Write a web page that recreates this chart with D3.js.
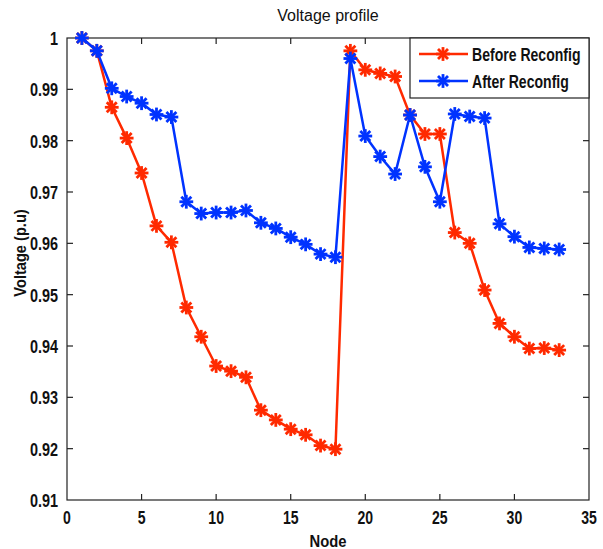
<!DOCTYPE html>
<html>
<head>
<meta charset="utf-8">
<script src="https://cdn.jsdelivr.net/npm/d3@7"></script>
<style>
body { margin: 0; background: #fff; }
svg text { font-family: "Liberation Sans", Arial, sans-serif; }
</style>
</head>
<body>
<div id="chart"></div>
<script>
const width = 603, height = 549;
const margin = {top: 38, right: 14, bottom: 49, left: 67};

const nodes = d3.range(1, 34);
const before = [1.0, 0.9975, 0.9865, 0.9805, 0.9737, 0.9634, 0.9602, 0.9475, 0.9418, 0.9361, 0.9351,
  0.9339, 0.9275, 0.9256, 0.9238, 0.9227, 0.9206, 0.9199, 0.9975, 0.9938, 0.9931, 0.9925, 0.985,
  0.9813, 0.9813, 0.9621, 0.9600, 0.9509, 0.9444, 0.9418, 0.9395, 0.9396, 0.9392];
const after = [1.0, 0.9975, 0.9902, 0.9886, 0.9873, 0.9851, 0.9846, 0.9681, 0.9658, 0.9660, 0.9660,
  0.9664, 0.9640, 0.9629, 0.9612, 0.9598, 0.9579, 0.9573, 0.9960, 0.9809, 0.9769, 0.9735, 0.985,
  0.9749, 0.9681, 0.9852, 0.9847, 0.9844, 0.9638, 0.9613, 0.9592, 0.9590, 0.9588];
const xTicks = [0, 5, 10, 15, 20, 25, 30, 35];
const yTicks = [0.91, 0.92, 0.93, 0.94, 0.95, 0.96, 0.97, 0.98, 0.99, 1];
const series = [
  {name: "Before Reconfig", values: before, color: "#ff2a00"},
  {name: "After Reconfig", values: after, color: "#0033ff"}
];

const svg = d3.select('#chart').append('svg')
  .attr('width', width).attr('height', height);

const x = d3.scaleLinear().domain([0, 35]).range([margin.left, width - margin.right]);
const y = d3.scaleLinear().domain([0.91, 1]).range([height - margin.bottom, margin.top]);

// condensed bold text, like the narrow font in the original
function narrow(g, tx, ty, str, size, sx, anchor, rot) {
  return g.append('text')
    .attr('transform', `translate(${tx},${ty})` + (rot ? ` rotate(${rot})` : '') + ` scale(${sx},1)`)
    .attr('text-anchor', anchor || 'middle')
    .attr('font-size', size).attr('font-weight', 'bold').attr('fill', '#111')
    .text(str);
}

// box
svg.append('rect')
  .attr('x', x(0)).attr('y', y(1))
  .attr('width', x(35) - x(0)).attr('height', y(0.91) - y(1))
  .attr('fill', 'none').attr('stroke', '#222').attr('stroke-width', 1.2);

// inward ticks on all four sides
const tl = 6;
const tg = svg.append('g').attr('stroke', '#222').attr('stroke-width', 1.2);
xTicks.slice(1, -1).forEach(t => {
  tg.append('line').attr('x1', x(t)).attr('x2', x(t)).attr('y1', y(0.91)).attr('y2', y(0.91) - tl);
  tg.append('line').attr('x1', x(t)).attr('x2', x(t)).attr('y1', y(1)).attr('y2', y(1) + tl);
});
yTicks.slice(1, -1).forEach(t => {
  tg.append('line').attr('x1', x(0)).attr('x2', x(0) + tl).attr('y1', y(t)).attr('y2', y(t));
  tg.append('line').attr('x1', x(35)).attr('x2', x(35) - tl).attr('y1', y(t)).attr('y2', y(t));
});

// tick labels
const lab = svg.append('g');
xTicks.forEach(t => narrow(lab, x(t), y(0.91) + 24, t, 19, 0.74));
yTicks.forEach(t => narrow(lab, x(0) - 9, y(t) + 7, t, 19, 0.76, 'end'));

// titles
svg.append('text')
  .attr('x', (x(0) + x(35)) / 2).attr('y', 21)
  .attr('text-anchor', 'middle').attr('font-size', 16).attr('fill', '#111')
  .text('Voltage profile');
narrow(svg, (x(0) + x(35)) / 2, 547, 'Node', 17, 0.87);
narrow(svg, 26, 253, 'Voltage (p.u)', 17, 0.86, 'middle', -90);

// star marker
function star(g, cx, cy, color) {
  const r = 5.5, d = 4;
  const m = g.append('g').attr('stroke', color).attr('stroke-width', 2.8).attr('stroke-linecap', 'square');
  m.append('line').attr('x1', cx - r).attr('x2', cx + r).attr('y1', cy).attr('y2', cy);
  m.append('line').attr('x1', cx).attr('x2', cx).attr('y1', cy - r).attr('y2', cy + r);
  m.append('line').attr('x1', cx - d).attr('x2', cx + d).attr('y1', cy - d).attr('y2', cy + d);
  m.append('line').attr('x1', cx - d).attr('x2', cx + d).attr('y1', cy + d).attr('y2', cy - d);
}

const line = d3.line().x((d, i) => x(nodes[i])).y(d => y(d));
series.forEach(s => {
  svg.append('path').datum(s.values)
    .attr('d', line).attr('fill', 'none')
    .attr('stroke', s.color).attr('stroke-width', 2.5);
  const g = svg.append('g');
  s.values.forEach((v, i) => star(g, x(nodes[i]), y(v), s.color));
});

// legend
const lg = svg.append('g');
lg.append('rect').attr('x', 410).attr('y', y(1)).attr('width', x(35) - 410).attr('height', 60)
  .attr('fill', '#fff').attr('stroke', '#222').attr('stroke-width', 1.2);
series.forEach((s, i) => {
  const ly = y(1) + 16 + i * 27;
  lg.append('line').attr('x1', 419).attr('x2', 468).attr('y1', ly).attr('y2', ly)
    .attr('stroke', s.color).attr('stroke-width', 2.5);
  star(lg, 443, ly, s.color);
  narrow(lg, 472, ly + 7, s.name, 19, 0.74, 'start');
});
</script>
</body>
</html>
